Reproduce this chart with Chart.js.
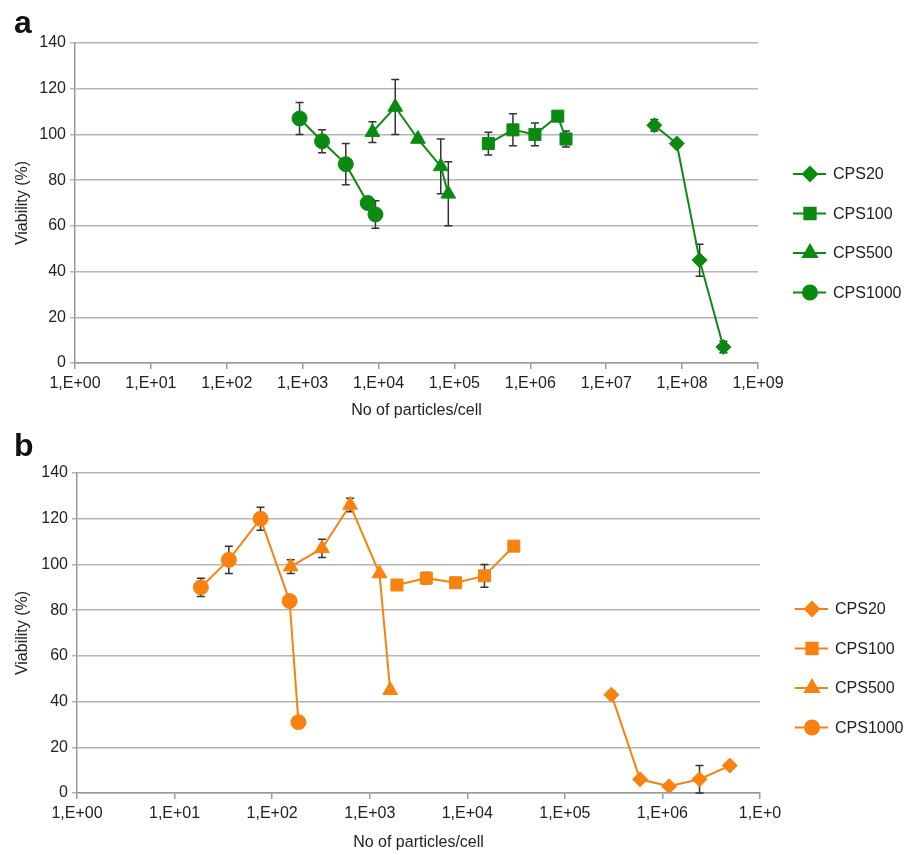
<!DOCTYPE html>
<html>
<head>
<meta charset="utf-8">
<script src="https://cdn.jsdelivr.net/npm/chart.js@4/dist/chart.umd.min.js"></script>
<style>
  body { margin: 0; background: #fff; }
  #wrap { position: relative; width: 913px; height: 855px; overflow: hidden; }
  .panel { position: absolute; left: 0; }
  .letter { position: absolute; left: 14px; font: bold 32px "Liberation Sans", Arial, sans-serif; color: #111; }
</style>
</head>
<body>
<div id="wrap">
  <canvas id="chartA" class="panel" width="913" height="420" style="top:0"></canvas>
  <canvas id="chartB" class="panel" width="913" height="435" style="top:420px"></canvas>
  <div class="letter" style="top:4px">a</div>
  <div class="letter" style="top:427px">b</div>
</div>
<script>
// Series names (same in both panels)
const seriesNames = ['CPS20', 'CPS100', 'CPS500', 'CPS1000']

// Panel a (green)
const aCps20X = [4.3e7, 8.5e7, 1.7e8, 3.5e8]
const aCps20Y = [104, 96, 45, 7]
const aCps20Err = [2.5, 1, 7, 2.5]
const aCps100X = [2.8e5, 5.9e5, 1.15e6, 2.3e6, 2.95e6]
const aCps100Y = [96, 102, 100, 108, 98]
const aCps100Err = [5, 7, 5, 1, 3.5]
const aCps500X = [8.3e3, 1.66e4, 3.3e4, 6.6e4, 8.3e4]
const aCps500Y = [101, 112, 98, 86, 74]
const aCps500Err = [4.5, 12, 1, 12, 14]
const aCps1000X = [9.1e2, 1.8e3, 3.7e3, 7.2e3, 9.1e3]
const aCps1000Y = [107, 97, 87, 70, 65]
const aCps1000Err = [7, 5, 9, 2.5, 6]
const aTickValues = [1, 1e1, 1e2, 1e3, 1e4, 1e5, 1e6, 1e7, 1e8, 1e9]
const aTickLabels = ['1,E+00', '1,E+01', '1,E+02', '1,E+03', '1,E+04', '1,E+05', '1,E+06', '1,E+07', '1,E+08', '1,E+09']

// Panel b (orange)
const bCps20X = [3.0e5, 5.9e5, 1.17e6, 2.4e6, 4.9e6]
const bCps20Y = [43, 6, 3, 6, 12]
const bCps20Err = [1.5, 0, 0, 6, 0]
const bCps100X = [1.9e3, 3.8e3, 7.6e3, 1.5e4, 3.0e4]
const bCps100Y = [91, 94, 92, 95, 108]
const bCps100Err = [0, 2.5, 0, 5, 0]
const bCps500X = [155, 324, 630, 1260, 1620]
const bCps500Y = [99, 107, 126, 96, 45]
const bCps500Err = [3, 4, 3, 0, 0]
const bCps1000X = [18.6, 36, 76, 151, 186]
const bCps1000Y = [90, 102, 120, 84, 31]
const bCps1000Err = [4, 6, 5, 0, 0]
const bTickValues = [1, 1e1, 1e2, 1e3, 1e4, 1e5, 1e6, 1e7]
const bTickLabels = ['1,E+00', '1,E+01', '1,E+02', '1,E+03', '1,E+04', '1,E+05', '1,E+06', '1,E+0']

const yTicks = [0, 20, 40, 60, 80, 100, 120, 140]

const FONT = '"Liberation Sans", Arial, sans-serif'
const markers = [
	{ pointStyle: 'rectRot', radius: 7.5 },
	{ pointStyle: 'rect', radius: 8.5 },
	{ pointStyle: 'triangle', radius: 8.5 },
	{ pointStyle: 'circle', radius: 7.5 }
]

// Error bars, drawn under the markers
const errorBars = {
	id: 'errorBars',
	beforeDatasetsDraw(chart) {
		const { ctx, scales: { x, y } } = chart
		ctx.save()
		ctx.strokeStyle = '#333'
		ctx.lineWidth = 1.5
		chart.data.datasets.forEach(ds => {
			ds.err.forEach((e, i) => {
				if (!e) return
				const px = x.getPixelForValue(ds.data[i].x)
				const top = y.getPixelForValue(ds.data[i].y + e)
				const bot = y.getPixelForValue(ds.data[i].y - e)
				ctx.beginPath()
				ctx.moveTo(px, top); ctx.lineTo(px, bot)
				ctx.moveTo(px - 4, top); ctx.lineTo(px + 4, top)
				ctx.moveTo(px - 4, bot); ctx.lineTo(px + 4, bot)
				ctx.stroke()
			})
		})
		ctx.restore()
	}
}

// Excel-like legend: line + marker + label
const sideLegend = {
	id: 'sideLegend',
	afterDraw(chart, args, opts) {
		const ctx = chart.ctx
		ctx.save()
		chart.data.datasets.forEach((ds, i) => {
			const y = opts.y0 + i * opts.gap
			ctx.strokeStyle = ds.borderColor
			ctx.lineWidth = 2
			ctx.beginPath()
			ctx.moveTo(opts.x, y); ctx.lineTo(opts.x + 33, y)
			ctx.stroke()
			ctx.fillStyle = ds.borderColor
			Chart.helpers.drawPoint(ctx, { pointStyle: ds.pointStyle, radius: ds.pointRadius - 0.5, rotation: 0, borderWidth: 1 }, opts.x + 17, y)
			ctx.fill()
			ctx.fillStyle = '#222'
			ctx.font = '16px ' + FONT
			ctx.textBaseline = 'middle'
			ctx.fillText(ds.label, opts.x + 40, y + 1)
		})
		ctx.restore()
	}
}

function makeSet(i, xs, ys, errs, color) {
	return {
		label: seriesNames[i],
		data: xs.map((v, k) => ({ x: v, y: ys[k] })),
		err: errs,
		borderColor: color,
		backgroundColor: color,
		borderWidth: 2,
		pointStyle: markers[i].pointStyle,
		pointRadius: markers[i].radius,
		pointBorderWidth: 1,
		tension: 0
	}
}

function makeChart(id, datasets, tickValues, tickLabels, pad, legendY0, titlePad) {
	return new Chart(document.getElementById(id), {
		type: 'line',
		data: { datasets },
		options: {
			responsive: false,
			animation: false,
			layout: { padding: pad },
			plugins: {
				legend: { display: false },
				tooltip: { enabled: false },
				sideLegend: { x: 913 - pad.right + 35, y0: legendY0, gap: 39.5 }
			},
			scales: {
				x: {
					type: 'logarithmic',
					min: tickValues[0],
					max: tickValues[tickValues.length - 1],
					afterBuildTicks: s => { s.ticks = tickValues.map(v => ({ value: v })) },
					afterFit: s => { s.height = pad.xh },
					ticks: {
						autoSkip: false, maxRotation: 0, padding: 5,
						color: '#222', font: { family: FONT, size: 16 },
						callback: (v, i) => tickLabels[i]
					},
					grid: { drawOnChartArea: false, drawTicks: true, tickLength: 6, color: '#9a9a9a', lineWidth: 1.5 },
					border: { color: '#9a9a9a', width: 1.5 },
					title: { display: true, text: 'No of particles/cell', color: '#222', font: { family: FONT, size: 16 }, padding: { top: 2, bottom: titlePad } }
				},
				y: {
					min: 0, max: 140,
					afterBuildTicks: s => { s.ticks = yTicks.map(v => ({ value: v })) },
					afterFit: s => { s.width = pad.yw },
					ticks: { color: '#222', font: { family: FONT, size: 16 }, padding: 4 },
					grid: { color: '#b4b4b4', lineWidth: 1.5, tickLength: 5 },
					border: { color: '#9a9a9a', width: 1.5 },
					title: { display: true, text: 'Viability (%)', color: '#222', font: { family: FONT, size: 16 }, padding: { top: 13, bottom: 0 } }
				}
			}
		},
		plugins: [errorBars, sideLegend]
	})
}

const green = '#0b8a12'
const orange = '#f7820f'

makeChart('chartA', [
	makeSet(0, aCps20X, aCps20Y, aCps20Err, green),
	makeSet(1, aCps100X, aCps100Y, aCps100Err, green),
	makeSet(2, aCps500X, aCps500Y, aCps500Err, green),
	makeSet(3, aCps1000X, aCps1000Y, aCps1000Err, green)
], aTickValues, aTickLabels, { left: 0, right: 155, top: 43, bottom: 0, xh: 57, yw: 75 }, 174, 0)

makeChart('chartB', [
	makeSet(0, bCps20X, bCps20Y, bCps20Err, orange),
	makeSet(1, bCps100X, bCps100Y, bCps100Err, orange),
	makeSet(2, bCps500X, bCps500Y, bCps500Err, orange),
	makeSet(3, bCps1000X, bCps1000Y, bCps1000Err, orange)
], bTickValues, bTickLabels, { left: 0, right: 153, top: 53, bottom: 0, xh: 62, yw: 77 }, 189, 3)
</script>
</body>
</html>
